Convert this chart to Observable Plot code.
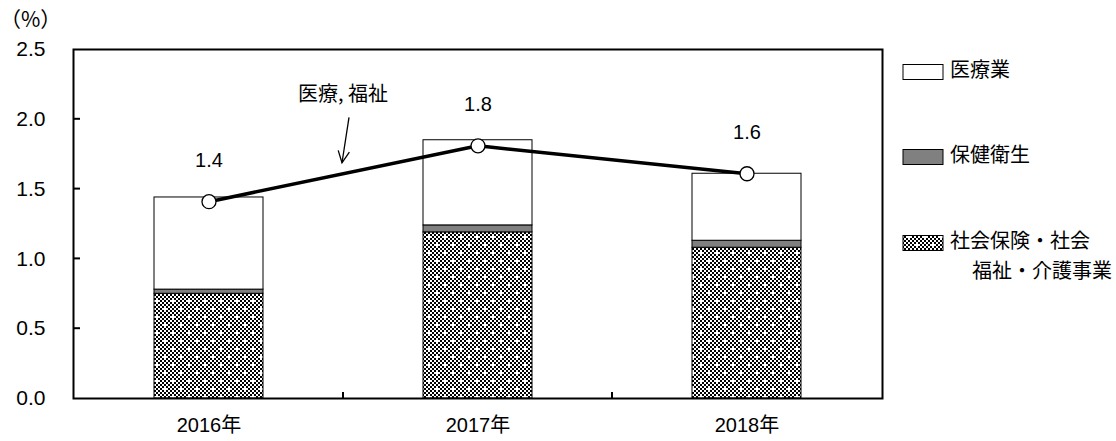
<!DOCTYPE html>
<html><head><meta charset="utf-8">
<script src="https://cdn.jsdelivr.net/npm/d3@7"></script>
<script src="https://cdn.jsdelivr.net/npm/@observablehq/plot@0.6"></script>
<style>
body{margin:0;background:#fff;}
#wrap{position:relative;width:1116px;height:441px;}
</style></head><body><div id="wrap"></div>
<script>
// ---- data ----
const years = ["2016年", "2017年", "2018年"];
const seriesNames = ["社会保険・社会福祉・介護事業", "保健衛生", "医療業"];
const welfare = [0.75, 1.19, 1.08];   // 社会保険・社会福祉・介護事業
const hygiene = [0.03, 0.05, 0.05];   // 保健衛生
const medical = [0.66, 0.61, 0.48];   // 医療業
const totalLine = [1.41, 1.81, 1.61]; // 医療，福祉
const yTicks = [0, 0.5, 1.0, 1.5, 2.0, 2.5];
const unitLabel = "（%）";
const annotationText = "医療, 福祉";
const legendLabels = [["医療業"], ["保健衛生"], ["社会保険・社会", "福祉・介護事業"]];

(function () {
const data = [];
years.forEach((yr, i) => {
  data.push({year: yr, series: seriesNames[0], value: welfare[i]});
  data.push({year: yr, series: seriesNames[1], value: hygiene[i]});
  data.push({year: yr, series: seriesNames[2], value: medical[i]});
});
const totals = years.map((yr, i) => ({year: yr, value: totalLine[i]}));

const NUM_FONT = "'Liberation Sans', Arial, 'Noto Sans CJK JP', sans-serif";
const CJK_FONT = "'Noto Sans CJK JP', sans-serif";

const chart = Plot.plot({
  width: 1116, height: 441,
  marginLeft: 73, marginRight: 234, marginTop: 49, marginBottom: 43,
  style: {fontFamily: NUM_FONT, fontSize: "20px", color: "#000", background: "#fff"},
  x: {domain: years, paddingInner: 0.596, paddingOuter: 0.298, label: null},
  y: {domain: [0, 2.5], label: null},
  color: {domain: seriesNames, range: ["url(#hatch)", "#808080", "#ffffff"]},
  marks: [
    Plot.barY(data, {x: "year", y: "value", fill: "series", stroke: "#000", strokeWidth: 1}),
    Plot.line(totals, {x: "year", y: "value", stroke: "#000", strokeWidth: 3.5}),
    Plot.dot(totals, {x: "year", y: "value", r: 7, fill: "#fff", stroke: "#000", strokeWidth: 1.3}),
    Plot.text(totals, {x: "year", y: "value", text: d => d.value.toFixed(1), dy: -41, fontSize: 20, fill: "#000"}),
    Plot.axisY({ticks: yTicks, tickSize: 0, tickPadding: 28, tickFormat: d => d.toFixed(1), fontSize: 21}),
    Plot.axisX({tickSize: 0, tickPadding: 19, fontSize: 20}),
    Plot.frame({stroke: "#000", strokeWidth: 2})
  ]
});

document.getElementById("wrap").appendChild(chart);

const svg = d3.select(chart);
// pattern definition
const defs = svg.insert("defs", ":first-child");
const pat = defs.append("pattern").attr("id", "hatch").attr("patternUnits", "userSpaceOnUse")
  .attr("width", 16).attr("height", 16);
pat.append("rect").attr("width", 16).attr("height", 16).attr("fill", "#fff");
for (let i = 0; i < 8; i++) for (let j = 0; j < 8; j++) {
  if ((i + j) % 2 === 0) {
    if ((i === 2 && j === 2) || (i === 6 && j === 6)) continue;
    pat.append("rect").attr("x", i * 2).attr("y", j * 2).attr("width", 2).attr("height", 2).attr("fill", "#000");
  }
}

const xs = chart.scale("x"), ys = chart.scale("y");
const bw = xs.bandwidth, step = xs.step;
const cx = yr => xs.apply(yr) + bw / 2;
const xLeft = xs.range[0], xRight = xs.range[1];
const yBottom = ys.apply(0);

const g = svg.append("g").attr("text-anchor", "start");
// inward y ticks
yTicks.slice(1, -1).forEach(t => {
  g.append("line").attr("x1", xLeft).attr("x2", xLeft + 7)
    .attr("y1", ys.apply(t)).attr("y2", ys.apply(t)).attr("stroke", "#000").attr("stroke-width", 2);
});
// inward x ticks at category boundaries
years.slice(0, -1).forEach(yr => {
  const x = cx(yr) + step / 2;
  g.append("line").attr("x1", x).attr("x2", x).attr("y1", yBottom).attr("y2", yBottom - 6)
    .attr("stroke", "#000").attr("stroke-width", 2);
});

// annotation
const ax = cx(years[0]) + step / 2;
g.append("text").attr("x", ax).attr("y", ys.apply(2.17)).attr("text-anchor", "middle")
  .attr("dominant-baseline", "middle").attr("font-family", CJK_FONT).attr("font-size", 20)
  .attr("fill", "#000").text(annotationText);
const a1 = [ax + 6, ys.apply(2.01)], a2 = [ax - 1, ys.apply(1.685)];
g.append("line").attr("x1", a1[0]).attr("y1", a1[1]).attr("x2", a2[0]).attr("y2", a2[1])
  .attr("stroke", "#000").attr("stroke-width", 1.3);
{
  const ang = Math.atan2(a2[1] - a1[1], a2[0] - a1[0]);
  const L = 13, w = 0.45;
  const p1 = [a2[0] - L * Math.cos(ang - w), a2[1] - L * Math.sin(ang - w)];
  const p2 = [a2[0] - L * Math.cos(ang + w), a2[1] - L * Math.sin(ang + w)];
  g.append("path").attr("d", `M${p1}L${a2}L${p2}`).attr("fill", "none")
    .attr("stroke", "#000").attr("stroke-width", 1.3);
}

// unit label
g.append("text").attr("x", 0).attr("y", 21).attr("text-anchor", "start").attr("dominant-baseline", "middle")
  .attr("font-family", CJK_FONT).attr("font-size", 21).attr("fill", "#000").text(unitLabel);

// legend
const legendFills = ["#ffffff", "#808080", "url(#hatch)"];
const lx = xRight + 21, lyc = [72, 157, 243];
legendLabels.forEach((lines, k) => {
  g.append("rect").attr("x", lx).attr("y", lyc[k] - 7.5).attr("width", 40).attr("height", 15)
    .attr("fill", legendFills[k]).attr("stroke", "#000").attr("stroke-width", 1);
  lines.forEach((t, li) => {
    g.append("text").attr("x", lx + 47 + (li > 0 ? 22 : 0)).attr("y", lyc[k] + li * 30)
      .attr("text-anchor", "start").attr("dominant-baseline", "middle")
      .attr("font-family", CJK_FONT).attr("font-size", 20)
      .attr("fill", "#000").text(t);
  });
});
})();
</script>
</body></html>
